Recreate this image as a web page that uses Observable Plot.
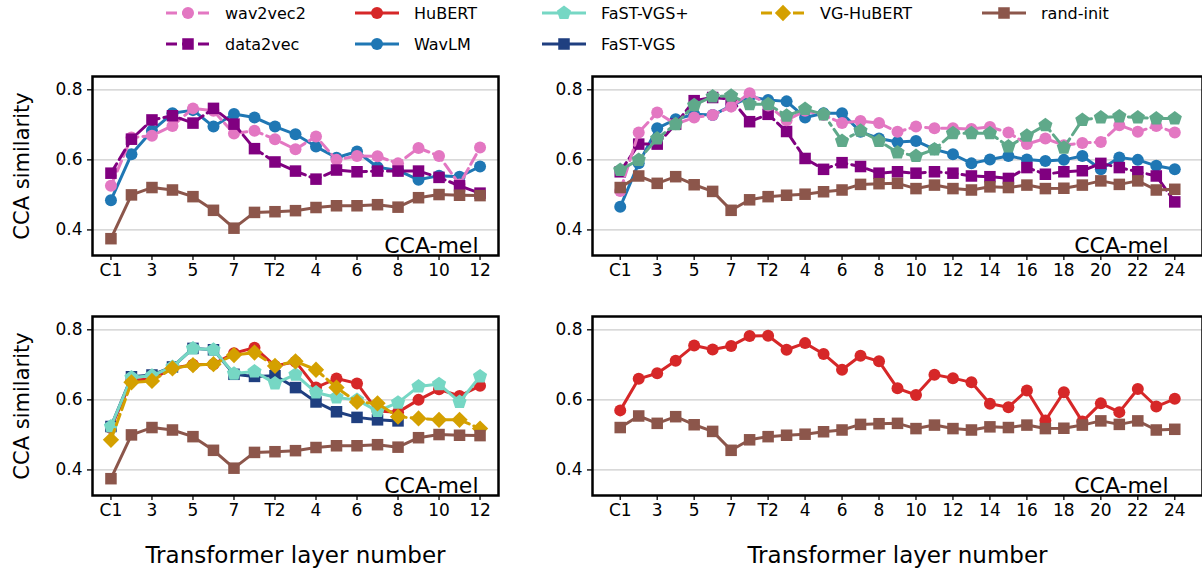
<!DOCTYPE html>
<html><head><meta charset="utf-8">
<script src="https://cdn.jsdelivr.net/npm/d3@7"></script>
<script src="https://cdn.jsdelivr.net/npm/@observablehq/plot@0.6"></script>
<style>
body{margin:0;background:#fff;font-family:"DejaVu Sans",sans-serif;}
#root{position:relative;width:1202px;height:577px;overflow:hidden;background:#fff;}
.panel{position:absolute;}
.leg{position:absolute;display:flex;align-items:center;font-size:16px;white-space:nowrap;color:#000;}
</style></head><body><div id="root"></div><script>
// ---------- data ----------
const yTicks = [0.4, 0.6, 0.8];
const yTickLabels = ["0.4", "0.6", "0.8"];
const tickLabelsBase = ["C1","3","5","7","T2","4","6","8","10","12"];
const tickLabelsLarge = ["C1","3","5","7","T2","4","6","8","10","12","14","16","18","20","22","24"];

// base models (C1..C7, T1..T12)
const wav2vec2Base = [0.526,0.664,0.669,0.697,0.747,0.740,0.675,0.683,0.659,0.630,0.667,0.600,0.611,0.610,0.590,0.634,0.611,0.530,0.635];
const data2vecBase = [0.562,0.659,0.714,0.726,0.705,0.747,0.702,0.632,0.594,0.568,0.545,0.571,0.566,0.568,0.568,0.568,0.550,0.526,0.505];
const wavlmBase    = [0.485,0.616,0.683,0.733,0.742,0.695,0.731,0.721,0.695,0.673,0.638,0.606,0.624,0.579,0.570,0.543,0.555,0.552,0.581];
const randBase     = [0.375,0.500,0.521,0.514,0.495,0.456,0.405,0.450,0.452,0.455,0.464,0.469,0.469,0.472,0.465,0.492,0.501,0.499,0.498];
const hubertBase   = [0.520,0.655,0.660,0.690,0.700,0.702,0.733,0.749,0.697,0.709,0.635,0.661,0.647,0.568,0.565,0.600,0.630,0.611,0.640];
const fastvgsBase  = [0.524,0.666,0.671,0.694,0.747,0.743,0.673,0.667,0.669,0.635,0.594,0.566,0.550,0.543,0.540];
const fastvgsPlusBase = [0.524,0.664,0.669,0.694,0.747,0.743,0.675,0.681,0.647,0.672,0.621,0.607,0.600,0.568,0.592,0.638,0.645,0.594,0.667];
const vghubertBase = [0.486,0.650,0.654,0.690,0.699,0.702,0.728,0.735,0.697,0.710,0.686,0.635,0.594,0.590,0.552,0.547,0.543,0.543,0.518];

// large models (C1..C7, T1..T24)
const wav2vec2Large = [0.511,0.678,0.735,0.702,0.721,0.728,0.752,0.790,0.755,0.713,0.740,0.728,0.705,0.711,0.705,0.680,0.695,0.690,0.690,0.688,0.694,0.678,0.645,0.661,0.642,0.648,0.651,0.699,0.680,0.697,0.678];
const data2vecLarge = [0.566,0.645,0.645,0.702,0.769,0.778,0.773,0.709,0.730,0.681,0.604,0.573,0.592,0.581,0.562,0.566,0.562,0.566,0.562,0.554,0.552,0.547,0.578,0.559,0.566,0.569,0.590,0.578,0.566,0.554,0.480];
const wavlmLarge    = [0.466,0.590,0.690,0.716,0.730,0.728,0.754,0.780,0.771,0.767,0.721,0.733,0.733,0.680,0.661,0.651,0.654,0.630,0.616,0.590,0.601,0.611,0.601,0.597,0.600,0.611,0.573,0.607,0.600,0.583,0.573];
const greenLarge    = [0.571,0.600,0.661,0.702,0.756,0.781,0.783,0.759,0.759,0.726,0.745,0.730,0.654,0.683,0.654,0.621,0.611,0.630,0.676,0.676,0.676,0.638,0.669,0.699,0.635,0.714,0.721,0.724,0.721,0.718,0.718];
const randLarge     = [0.521,0.554,0.533,0.552,0.529,0.510,0.456,0.486,0.495,0.499,0.502,0.509,0.514,0.530,0.532,0.533,0.518,0.528,0.518,0.514,0.523,0.521,0.528,0.518,0.519,0.528,0.540,0.530,0.540,0.514,0.516];
const hubertLarge   = [0.570,0.660,0.676,0.712,0.755,0.744,0.754,0.782,0.783,0.743,0.762,0.731,0.686,0.726,0.710,0.633,0.614,0.672,0.662,0.650,0.589,0.579,0.627,0.541,0.622,0.538,0.590,0.565,0.631,0.581,0.603];

// ---------- styles ----------
const FONT = "DejaVu Sans";
const diamond = {draw(ctx, size){ const h = Math.sqrt(size/2); ctx.moveTo(0,-h); ctx.lineTo(h,0); ctx.lineTo(0,h); ctx.lineTo(-h,0); ctx.closePath(); }};
const pentagon = {draw(ctx, size){ const R = Math.sqrt(size/(2.5*Math.sin(2*Math.PI/5))); for(let k=0;k<5;k++){ const a = -Math.PI/2 + k*2*Math.PI/5; const px=R*Math.cos(a), py=R*Math.sin(a); if(k===0) ctx.moveTo(px,py); else ctx.lineTo(px,py);} ctx.closePath(); }};
const ST = {
  wav2vec2: {color:"#e377c2", dash:"11,5", symbol:d3.symbolCircle, r:6},
  data2vec: {color:"#800080", dash:"11,5", symbol:d3.symbolSquare, r:6.5},
  hubert:   {color:"#d62728", dash:null, symbol:d3.symbolCircle, r:6},
  wavlm:    {color:"#1f77b4", dash:null, symbol:d3.symbolCircle, r:6},
  fastvgsp: {color:"#76d7c4", dash:null, symbol:pentagon, r:6.5},
  fastvgs:  {color:"#1f3f80", dash:null, symbol:d3.symbolSquare, r:6.5},
  vghubert: {color:"#d4a000", dash:"11,5", symbol:diamond, r:6.5},
  rand:     {color:"#8c564b", dash:null, symbol:d3.symbolSquare, r:6.5},
  green:    {color:"#5fa98a", dash:"19,5,3,5", symbol:pentagon, r:6.5}
};

const root = document.getElementById("root");

function panel(o){
  const marks = [Plot.gridY(yTicks, {stroke:"#cccccc", strokeOpacity:1, strokeWidth:1.2})];
  for (const s of o.series){
    const st = ST[s.key];
    const data = s.values.map((v,i)=>({i, v}));
    marks.push(Plot.line(data, {x:"i", y:"v", stroke:st.color, strokeWidth:3, strokeDasharray:st.dash ?? undefined}));
    marks.push(Plot.dot(data, {x:"i", y:"v", fill:st.color, r:st.r, symbol:st.symbol, stroke:"none"}));
  }
  marks.push(Plot.frame({stroke:"#000", strokeWidth:2.5}));
  const xt = o.tickLabels.map((_,k)=>2*k);
  marks.push(Plot.axisX(xt, {tickFormat:d=>o.tickLabels[d/2], tickSize:5, tickPadding:3, fontSize:17, strokeWidth:1.3, label:null}));
  marks.push(Plot.axisY(yTicks, {tickFormat:d=>yTickLabels[yTicks.indexOf(d)], tickSize:5, tickPadding:5, fontSize:17, strokeWidth:1.3, label:null}));
  marks.push(Plot.text(["CCA-mel"], {frameAnchor:"bottom-right", textAnchor:"end", lineAnchor:"bottom", dx:o.melDx, dy:-3, fontSize:22}));
  if (o.yTitle) marks.push(Plot.text([o.yTitle], {frameAnchor:"left", textAnchor:"middle", lineAnchor:"middle", rotate:-90, dx:-70, fontSize:21}));
  if (o.xTitle) marks.push(Plot.text([o.xTitle], {frameAnchor:"bottom", textAnchor:"middle", lineAnchor:"middle", dy:60, fontSize:23}));
  const svg = Plot.plot({
    width:o.width, height:o.height,
    marginLeft:o.ml, marginRight:o.mr, marginTop:o.mt, marginBottom:o.mb,
    x:{domain:o.xDomain}, y:{domain:[0.327,0.838]},
    style:{fontFamily:FONT, fontSize:"17px", background:"transparent", color:"#000"},
    marks
  });
  const div = document.createElement("div");
  div.className = "panel"; div.style.left = o.left+"px"; div.style.top = o.top+"px";
  div.appendChild(svg); root.appendChild(div);
}

panel({left:0, top:60, width:505, height:230, ml:92, mr:7, mt:16, mb:35, xDomain:[-0.9,18.9], tickLabels:tickLabelsBase, melDx:-20, yTitle:"CCA similarity",
  series:[{key:"wavlm", values:wavlmBase},{key:"wav2vec2", values:wav2vec2Base},{key:"data2vec", values:data2vecBase},{key:"rand", values:randBase}]});
panel({left:540, top:60, width:662, height:230, ml:52, mr:0, mt:16, mb:35, xDomain:[-1.5,31.5], tickLabels:tickLabelsLarge, melDx:-34,
  series:[{key:"wavlm", values:wavlmLarge},{key:"data2vec", values:data2vecLarge},{key:"wav2vec2", values:wav2vec2Large},{key:"green", values:greenLarge},{key:"rand", values:randLarge}]});
panel({left:0, top:300, width:505, height:277, ml:92, mr:7, mt:16, mb:82, xDomain:[-0.9,18.9], tickLabels:tickLabelsBase, melDx:-20, yTitle:"CCA similarity", xTitle:"Transformer layer number",
  series:[{key:"hubert", values:hubertBase},{key:"fastvgs", values:fastvgsBase},{key:"fastvgsp", values:fastvgsPlusBase},{key:"vghubert", values:vghubertBase},{key:"rand", values:randBase}]});
panel({left:540, top:300, width:662, height:277, ml:52, mr:0, mt:16, mb:82, xDomain:[-1.5,31.5], tickLabels:tickLabelsLarge, melDx:-34, xTitle:"Transformer layer number",
  series:[{key:"hubert", values:hubertLarge},{key:"rand", values:randLarge}]});

// ---------- legend ----------
const legendNames = ["wav2vec2","data2vec","HuBERT","WavLM","FaST-VGS+","FaST-VGS","VG-HuBERT","rand-init"];
const legendKeys  = ["wav2vec2","data2vec","hubert","wavlm","fastvgsp","fastvgs","vghubert","rand"];
const legendCol   = [0,0,1,1,2,2,3,4];
const legendRow   = [0,1,0,1,0,1,0,0];
const colX = [165, 354, 541, 760, 981];
const rowY = [13, 44];
legendNames.forEach((name, k) => {
  const st = ST[legendKeys[k]];
  const el = document.createElement("div");
  el.className = "leg";
  el.style.left = colX[legendCol[k]]+"px"; el.style.top = (rowY[legendRow[k]]-11)+"px"; el.style.height = "22px";
  const ns = "http://www.w3.org/2000/svg";
  const s = document.createElementNS(ns, "svg");
  s.setAttribute("width", 46); s.setAttribute("height", 22);
  const ln = document.createElementNS(ns, "line");
  ln.setAttribute("x1", 1); ln.setAttribute("x2", 45); ln.setAttribute("y1", 11); ln.setAttribute("y2", 11);
  ln.setAttribute("stroke", st.color); ln.setAttribute("stroke-width", 3);
  if (st.dash) ln.setAttribute("stroke-dasharray", st.dash);
  s.appendChild(ln);
  const p = d3.path(); st.symbol.draw(p, st.r*st.r*Math.PI);
  const pe = document.createElementNS(ns, "path");
  pe.setAttribute("d", p.toString()); pe.setAttribute("transform", "translate(23,11)"); pe.setAttribute("fill", st.color);
  s.appendChild(pe);
  el.appendChild(s);
  const t = document.createElement("span"); t.textContent = name; t.style.marginLeft = "14px";
  el.appendChild(t);
  root.appendChild(el);
});
</script></body></html>
